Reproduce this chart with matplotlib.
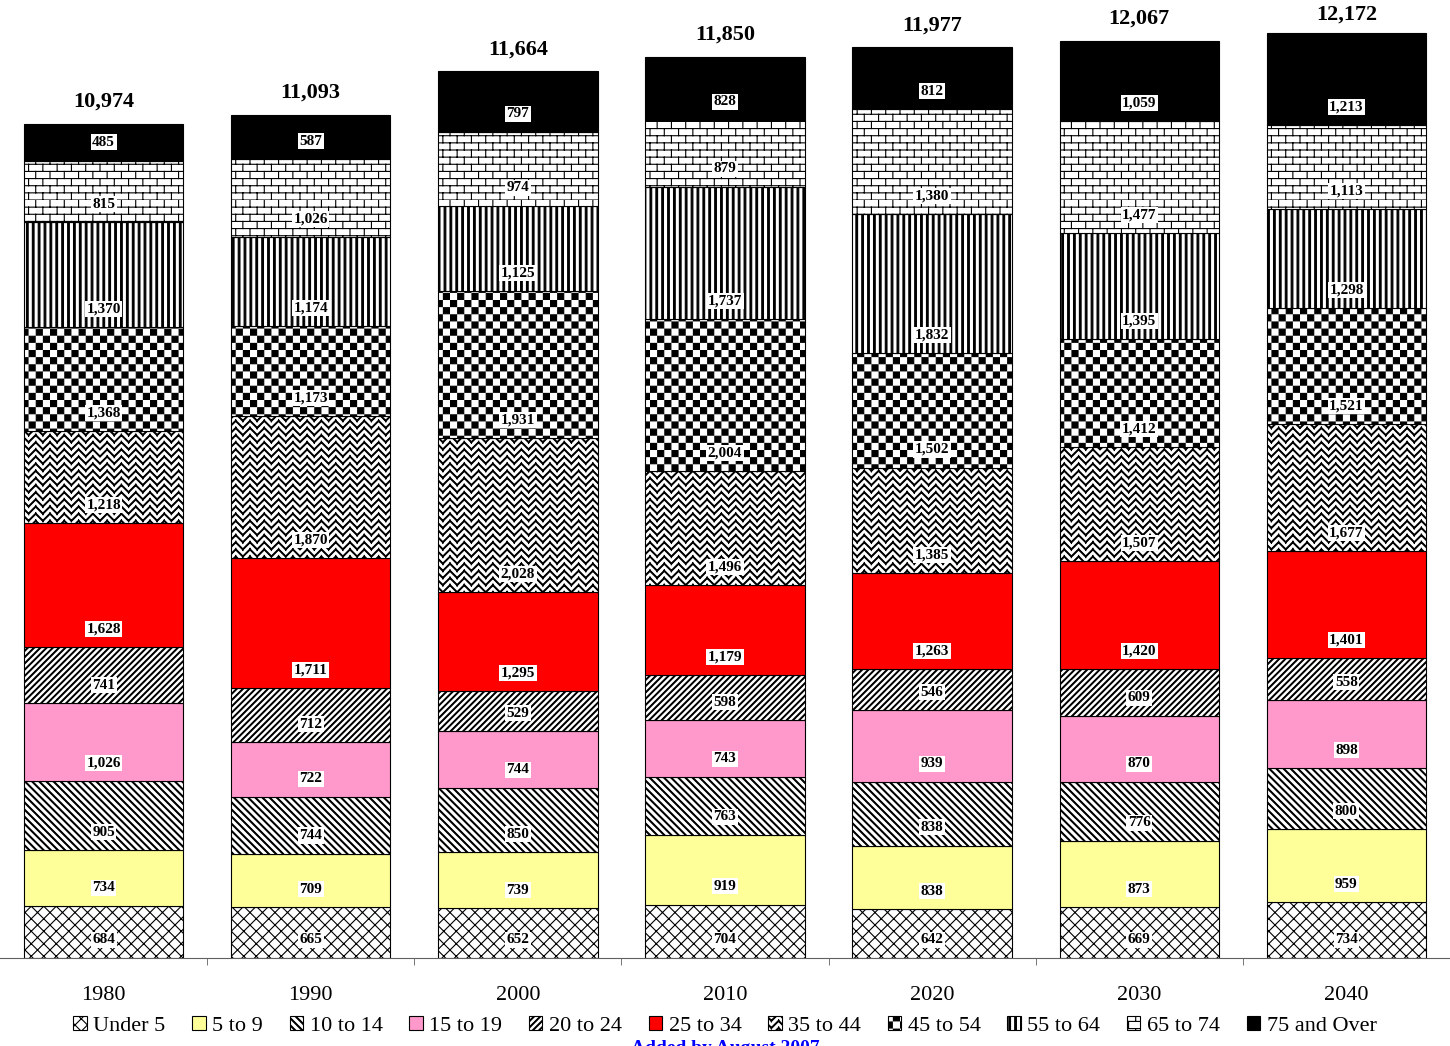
import warnings

import matplotlib
matplotlib.use("Agg")
import matplotlib.pyplot as plt
import matplotlib.hatch as mhatch
from matplotlib.path import Path
import numpy as np

warnings.filterwarnings("ignore")

plt.rcParams["font.family"] = ["Liberation Serif", "DejaVu Serif"]
plt.rcParams["hatch.linewidth"] = 0.8

years = ["1980", "1990", "2000", "2010", "2020", "2030", "2040"]
groups = ["Under 5", "5 to 9", "10 to 14", "15 to 19", "20 to 24", "25 to 34",
          "35 to 44", "45 to 54", "55 to 64", "65 to 74", "75 and Over"]

under5 = [684, 665, 652, 704, 642, 669, 734]
age5_9 = [734, 709, 739, 919, 838, 873, 959]
age10_14 = [905, 744, 850, 763, 838, 776, 800]
age15_19 = [1026, 722, 744, 743, 939, 870, 898]
age20_24 = [741, 712, 529, 598, 546, 609, 558]
age25_34 = [1628, 1711, 1295, 1179, 1263, 1420, 1401]
age35_44 = [1218, 1870, 2028, 1496, 1385, 1507, 1677]
age45_54 = [1368, 1173, 1931, 2004, 1502, 1412, 1521]
age55_64 = [1370, 1174, 1125, 1737, 1832, 1395, 1298]
age65_74 = [815, 1026, 974, 879, 1380, 1477, 1113]
age75_up = [485, 587, 797, 828, 812, 1059, 1213]

series = [under5, age5_9, age10_14, age15_19, age20_24, age25_34,
          age35_44, age45_54, age55_64, age65_74, age75_up]


# --- custom hatch patterns (Excel-like fills) in the unit hatch cell (1 inch) ---
def _band(a, b, d):
    # segment a-b thickened into a filled strip along offset d
    return [a, b, (b[0] + d[0], b[1] + d[1]), (a[0] + d[0], a[1] + d[1])]


def _diag(n, up):
    segs = []
    for k in range(-n, n + 1):
        c = k / n
        if up:
            segs.append(((-0.1, -c - 0.1), (1.1, 1.1 - c)))
        else:
            segs.append(((-0.1, 1.1 + c), (1.1, c - 0.1)))
    return segs


def _vert(n):
    return [(((k + 0.5) / n, -0.1), ((k + 0.5) / n, 1.1)) for k in range(n)]


def _brick(rows, bricks):
    segs = []
    for j in range(rows):
        y0, y1 = j / rows, (j + 1) / rows
        segs.append(((-0.1, y0), (1.1, y0)))
        for i in range(bricks + 1):
            x = (i + 0.5 * (j % 2)) / bricks
            segs.append(((x, y0), (x, y1)))
    return segs


def _zigzag(n):
    segs = []
    for j in range(-1, n + 1):
        y0, y1 = j / n, (j + 1) / n
        for i in range(n):
            x0, x1 = i / n, (i + 1) / n
            if i % 2 == 0:
                segs.append(((x0, y0), (x1, y1)))
            else:
                segs.append(((x0, y1), (x1, y0)))
    return segs


def _checker(m, shrink=0.011):
    polys = []
    s = 0.5 / m
    for i in range(m):
        for j in range(m):
            for dx, dy in ((0, 0), (s, s)):
                x0 = i / m + dx + shrink / 2
                y0 = j / m + dy + shrink / 2
                w = s - shrink
                polys.append([(x0, y0), (x0 + w, y0), (x0 + w, y0 + w), (x0, y0 + w)])
    return polys


def _build(segs=(), polys=()):
    verts, codes = [], []
    for a, b in segs:
        verts += [a, b]
        codes += [Path.MOVETO, Path.LINETO]
    for p in polys:
        verts += p + [p[0]]
        codes += [Path.MOVETO] + [Path.LINETO] * (len(p) - 1) + [Path.CLOSEPOLY]
    return np.array(verts, float), np.array(codes, Path.code_type)


CUSTOM = {
    "a": _build(segs=_diag(8, True) + _diag(8, False)),                         # crosshatch
    "b": _build(polys=[_band(a, b, (0.013, 0)) for a, b in _diag(14, False)]),  # wide down diag
    "c": _build(polys=[_band(a, b, (0.012, 0)) for a, b in _diag(16, True)]),   # dark up diag
    "d": _build(polys=[_band(a, b, (0, 0.012)) for a, b in _zigzag(14)]),       # weave / zigzag
    "e": _build(polys=_checker(7)),                                             # checkerboard
    "f": _build(polys=[_band(a, b, (0.017, 0)) for a, b in _vert(17)]),         # vertical lines
    "g": _build(segs=_brick(14, 7)),                                            # brick
}


class CustomHatch(mhatch.HatchPatternBase):
    def __init__(self, hatch, density):
        self.parts = [CUSTOM[ch] for ch in CUSTOM if ch in hatch]
        self.num_vertices = sum(len(v) for v, _ in self.parts)

    def set_vertices_and_codes(self, vertices, codes):
        i = 0
        for v, c in self.parts:
            vertices[i:i + len(v)] = v
            codes[i:i + len(v)] = c
            i += len(v)


mhatch._hatch_types.append(CustomHatch)

colors = ["white", "#FFFF99", "white", "#FF99CC", "white", "#FF0000",
          "white", "white", "white", "white", "black"]
hatches = ["a", None, "b", None, "c", None, "d", "e", "f", "g", None]

x = np.arange(len(years))
totals = np.sum(series, axis=0)
ymax = 12600

fig = plt.figure(figsize=(14.5, 10.46), dpi=100)
ax = fig.add_axes([0, 0.0841, 1, 0.9159])

bottom = np.zeros(len(years))
handles = []
for vals, name, col, h in zip(series, groups, colors, hatches):
    bars = ax.bar(x, vals, 0.77, bottom=bottom, color=col, edgecolor="black",
                  linewidth=0.8, hatch=h, label=name)
    handles.append(bars)
    for xi, b, v in zip(x, bottom, vals):
        ax.annotate(f"{v:,}", (xi, b), xytext=(0, 13), textcoords="offset points",
                    ha="center", va="center", fontsize=11, fontweight="bold",
                    bbox=dict(boxstyle="square,pad=0.1", fc="white", ec="none"))
    bottom += np.array(vals)

# totals sit above each bar, kept inside the plot top like the original
for xi, t in zip(x, totals):
    ax.annotate(f"{t:,}", (xi, min(t + 290, ymax - 195)), ha="center", va="center",
                fontsize=16, fontweight="bold", annotation_clip=False)

ax.set_xlim(-0.5, len(years) - 0.5)
ax.set_ylim(0, ymax)
ax.set_xticks(x)
ax.set_xticklabels(years, fontsize=16)
ax.set_xticks(x[:-1] + 0.5, minor=True)
ax.tick_params(axis="x", which="major", length=0, pad=20)
ax.tick_params(axis="x", which="minor", length=5, color="#606060", direction="out")
ax.set_yticks([])
for s in ["left", "right", "top"]:
    ax.spines[s].set_visible(False)
ax.spines["bottom"].set_color("#606060")

fig.legend(handles=handles, loc="center", bbox_to_anchor=(0.5, 0.019), ncol=11,
           frameon=False, fontsize=16, handlelength=0.6, handleheight=0.6,
           handletextpad=0.3, columnspacing=1.2, borderaxespad=0)

fig.text(0.5, 0.0062, "Added by August 2007", ha="center", va="top",
         fontsize=14, fontweight="bold", color="blue")

fig.savefig("out.png", dpi=100)
